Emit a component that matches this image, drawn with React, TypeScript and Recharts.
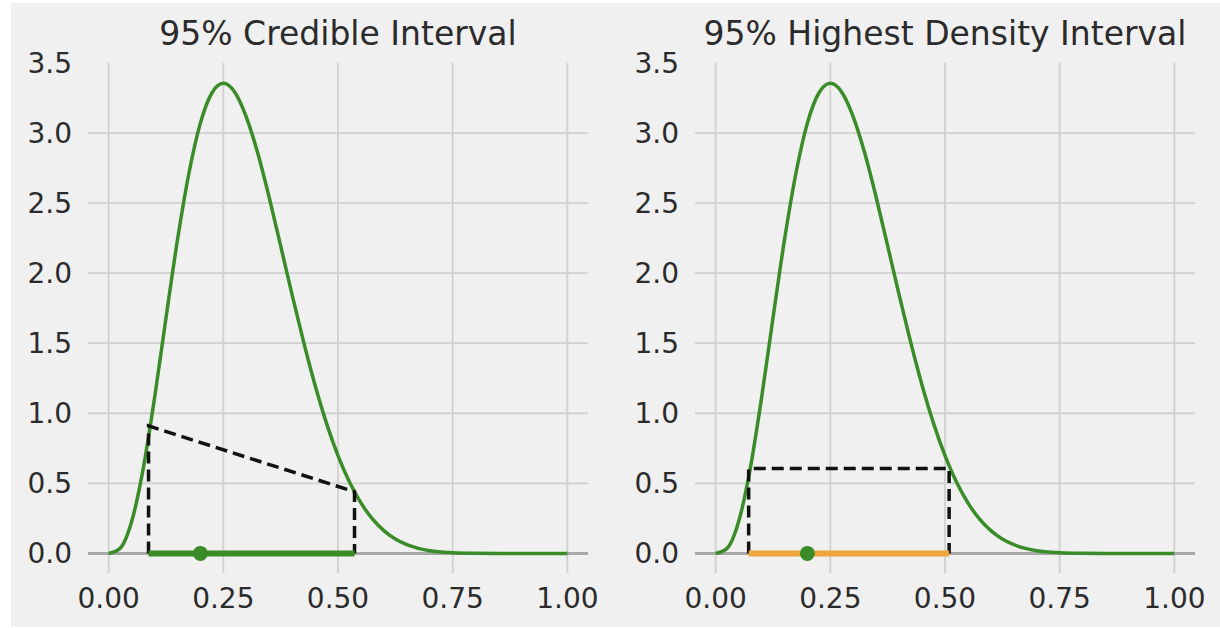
import React from "react"
import {
  ComposedChart,
  Line,
  Scatter,
  CartesianGrid,
  XAxis,
  YAxis,
  ReferenceLine
} from "recharts"

// posterior density (same curve in both panels)
const curveX = [
  0, 0.025, 0.05, 0.075, 0.1, 0.125, 0.15, 0.175, 0.2, 0.225, 0.25, 0.275,
  0.3, 0.325, 0.35, 0.375, 0.4, 0.425, 0.45, 0.475, 0.5, 0.525, 0.55, 0.575,
  0.6, 0.625, 0.65, 0.675, 0.7, 0.725, 0.75, 0.8, 0.85, 0.9, 0.95, 1.0
]
const curveY = [
  0, 0.036, 0.225, 0.598, 1.108, 1.68, 2.236, 2.713, 3.071, 3.286, 3.355, 3.292,
  3.116, 2.857, 2.54, 2.195, 1.845, 1.509, 1.2, 0.928, 0.698, 0.509, 0.36, 0.246,
  0.162, 0.102, 0.062, 0.036, 0.019, 0.01, 0.005, 0.001, 0, 0, 0, 0
]

const xTicks = [0, 0.25, 0.5, 0.75, 1.0]
const yTicks = [0, 0.5, 1.0, 1.5, 2.0, 2.5, 3.0, 3.5]
const gridY = [0, 0.5, 1.0, 1.5, 2.0, 2.5, 3.0]

// equal-tailed credible interval: bounds and density at each bound
const ciBounds = [0.087, 0.536]
const ciHeights = [0.91, 0.44]
// highest density interval: bounds and shared density level
const hdiBounds = [0.072, 0.509]
const hdiHeight = 0.606
const pointEstimate = 0.2

const GREEN = "#3a8c28"
const ORANGE = "#f0a43c"
const FONT = "'DejaVu Sans', sans-serif"

const curve = curveX.map((x, i) => ({ x, y: curveY[i] }))

const ciOutline = [
  { x: ciBounds[0], y: 0 },
  { x: ciBounds[0], y: ciHeights[0] },
  { x: ciBounds[1], y: ciHeights[1] },
  { x: ciBounds[1], y: 0 }
]
const hdiOutline = [
  { x: hdiBounds[0], y: 0 },
  { x: hdiBounds[0], y: hdiHeight },
  { x: hdiBounds[1], y: hdiHeight },
  { x: hdiBounds[1], y: 0 }
]

function Panel({ title, left, outline, bounds, barColor }: any) {
  const bar = [
    { x: bounds[0], y: 0 },
    { x: bounds[1], y: 0 }
  ]
  return (
    <div style={{ position: "absolute", left, top: 0, width: 600, height: 628 }}>
      <div
        style={{
          position: "absolute",
          left: 88,
          width: 500,
          top: 17,
          textAlign: "center",
          fontFamily: FONT,
          fontSize: 33,
          lineHeight: "33px",
          color: "#2b2b2b",
          whiteSpace: "nowrap"
        }}
      >
        {title}
      </div>
      <ComposedChart
        width={600}
        height={628}
        data={curve}
        margin={{ top: 63, right: 12, bottom: 15, left: 28 }}
      >
        <CartesianGrid stroke="#d0d0d0" strokeWidth={1.8} horizontalValues={gridY} verticalValues={xTicks} />
        <XAxis
          type="number"
          dataKey="x"
          domain={[-0.045, 1.045]}
          allowDataOverflow
          ticks={xTicks}
          tickFormatter={(v: number) => v.toFixed(2)}
          axisLine={false}
          tickLine={false}
          tickSize={0}
          tickMargin={15}
          height={40}
          tick={{ fill: "#2b2b2b", fontSize: 28, fontFamily: FONT }}
        />
        <YAxis
          type="number"
          domain={[-0.14, 3.5]}
          allowDataOverflow
          ticks={yTicks}
          tickFormatter={(v: number) => v.toFixed(1)}
          axisLine={false}
          tickLine={false}
          tickSize={0}
          tickMargin={16}
          width={60}
          tick={{ fill: "#2b2b2b", fontSize: 28, fontFamily: FONT }}
        />
        <ReferenceLine y={0} stroke="#a8a8a8" strokeWidth={3} />
        <Line dataKey="y" type="monotone" stroke={GREEN} strokeWidth={3.5} dot={false} activeDot={false} isAnimationActive={false} />
        <Line data={outline} dataKey="y" type="linear" stroke="#111" strokeWidth={3.5} strokeDasharray="12 6" dot={false} activeDot={false} isAnimationActive={false} />
        <Line data={bar} dataKey="y" type="linear" stroke={barColor} strokeWidth={6} dot={false} activeDot={false} isAnimationActive={false} />
        <Scatter
          data={[{ x: pointEstimate, y: 0 }]}
          dataKey="y"
          fill={GREEN}
          isAnimationActive={false}
          shape={(p: any) => <circle cx={p.cx} cy={p.cy} r={7.5} fill={GREEN} />}
        />
      </ComposedChart>
    </div>
  )
}

export default function App() {
  return (
    <div style={{ position: "absolute", left: 0, top: 0, width: 1220, height: 628, background: "#fff", overflow: "hidden" }}>
      <div style={{ position: "absolute", left: 11, top: 3, width: 1209, height: 624, background: "#f0f0f0" }} />
      <Panel title="95% Credible Interval" left={0} outline={ciOutline} bounds={ciBounds} barColor={GREEN} />
      <Panel title="95% Highest Density Interval" left={607} outline={hdiOutline} bounds={hdiBounds} barColor={ORANGE} />
    </div>
  )
}
